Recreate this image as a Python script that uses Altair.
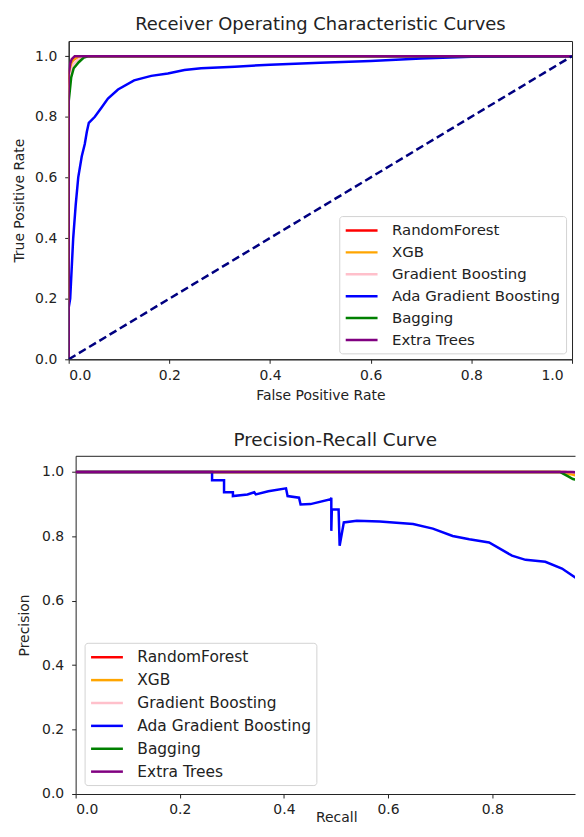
import altair as alt
import pandas as pd

FONT = "DejaVu Sans"
INK = "#222222"

models = ["RandomForest", "XGB", "Gradient Boosting", "Ada Gradient Boosting", "Bagging", "Extra Trees"]
colors = ["#ff0000", "#ffa500", "#ffc0cb", "#0000ff", "#008000", "#800080"]

# ROC curves (false positive rate, true positive rate)
roc_fpr = {
    "RandomForest": [0, 0, 0.002, 0.005, 0.01, 0.02, 0.05, 1.0],
    "XGB": [0, 0, 0.003, 0.008, 0.015, 0.03, 1.0],
    "Gradient Boosting": [0, 0, 0.004, 0.01, 0.02, 0.04, 1.0],
    "Ada Gradient Boosting": [0, 0, 0.003, 0.009, 0.014, 0.019, 0.026, 0.032, 0.036, 0.04,
                              0.052, 0.065, 0.078, 0.098, 0.13, 0.164, 0.197, 0.23, 0.263,
                              0.33, 0.4, 0.5, 0.6, 0.7, 0.8, 1.0],
    "Bagging": [0, 0, 0.005, 0.01, 0.02, 0.03, 0.04, 1.0],
    "Extra Trees": [0, 0, 0.003, 0.006, 0.012, 1.0],
}
roc_tpr = {
    "RandomForest": [0, 0.90, 0.95, 0.98, 0.99, 0.997, 1.0, 1.0],
    "XGB": [0, 0.92, 0.96, 0.985, 0.995, 1.0, 1.0],
    "Gradient Boosting": [0, 0.88, 0.94, 0.975, 0.99, 1.0, 1.0],
    "Ada Gradient Boosting": [0, 0.17, 0.2, 0.4, 0.51, 0.6, 0.67, 0.71, 0.75, 0.78,
                              0.8, 0.83, 0.86, 0.89, 0.92, 0.935, 0.943, 0.954, 0.96,
                              0.965, 0.972, 0.978, 0.984, 0.992, 0.998, 1.0],
    "Bagging": [0, 0.85, 0.93, 0.96, 0.98, 0.995, 1.0, 1.0],
    "Extra Trees": [0, 0.94, 0.975, 0.99, 1.0, 1.0],
}
chance_x = [0, 1]
chance_y = [0, 1]

# Precision-recall curves (recall, precision)
pr_recall = {
    "RandomForest": [0, 0.94, 0.96, 0.975, 0.99, 1.0],
    "XGB": [0, 0.93, 0.95, 0.975, 0.99, 1.0],
    "Gradient Boosting": [0, 0.95, 0.97, 0.985, 1.0],
    "Ada Gradient Boosting": [0, 0.262, 0.262, 0.285, 0.285, 0.302, 0.302, 0.33, 0.343, 0.346,
                              0.37, 0.404, 0.407, 0.429, 0.432, 0.451, 0.49, 0.491, 0.491,
                              0.492, 0.505, 0.507, 0.515, 0.54, 0.584, 0.648, 0.686, 0.724,
                              0.756, 0.794, 0.838, 0.864, 0.902, 0.934, 0.973, 1.0],
    "Bagging": [0, 0.93, 0.945, 0.955, 0.975, 0.99, 1.0],
    "Extra Trees": [0, 0.955, 0.975, 0.99, 1.0],
}
pr_precision = {
    "RandomForest": [1.0, 1.0, 0.997, 0.99, 0.975, 0.95],
    "XGB": [1.0, 1.0, 0.993, 0.983, 0.97, 0.94],
    "Gradient Boosting": [1.0, 1.0, 0.995, 0.985, 0.95],
    "Ada Gradient Boosting": [1.0, 1.0, 0.974, 0.974, 0.937, 0.937, 0.925, 0.93, 0.937, 0.93,
                              0.94, 0.949, 0.925, 0.92, 0.899, 0.90, 0.915, 0.92, 0.817,
                              0.883, 0.883, 0.771, 0.843, 0.848, 0.846, 0.838, 0.824, 0.801,
                              0.791, 0.781, 0.74, 0.727, 0.721, 0.70, 0.657, 0.60],
    "Bagging": [1.0, 1.0, 0.987, 0.978, 0.971, 0.96, 0.93],
    "Extra Trees": [1.0, 1.0, 0.995, 0.985, 0.96],
}

roc_ticks = [0.0, 0.2, 0.4, 0.6, 0.8, 1.0]
pr_xticks = [0.0, 0.2, 0.4, 0.6, 0.8]
y_ticks = [0.0, 0.2, 0.4, 0.6, 0.8, 1.0]


def to_frame(xs, ys):
    rows = []
    for m in models:
        for i, (a, b) in enumerate(zip(xs[m], ys[m])):
            rows.append({"model": m, "idx": i, "x": a, "y": b})
    return pd.DataFrame(rows)


roc_df = to_frame(roc_fpr, roc_tpr)
pr_df = to_frame(pr_recall, pr_precision)
chance_df = pd.DataFrame({"x": chance_x, "y": chance_y, "idx": [0, 1]})

color_scale = alt.Scale(domain=models, range=colors)


def make_legend(orient, offset, font_size, row_pad, label_off):
    return alt.Legend(title=None, orient=orient, offset=offset,
                      symbolType="M-2,0H2", symbolSize=256, symbolOffset=8,
                      symbolStrokeWidth=2.5, labelFontSize=font_size, labelFont=FONT,
                      labelColor=INK, fillColor="white", strokeColor="#d3d3d3",
                      cornerRadius=3, padding=5, rowPadding=row_pad,
                      labelOffset=label_off, labelLimit=400)


def y_axis(title, title_pad):
    return alt.Axis(values=y_ticks, format=".1f", title=title, labelPadding=8,
                    titlePadding=title_pad)


# ---------------- ROC panel ----------------
roc_x_scale = alt.Scale(domain=[0, 1], nice=False, zero=False)
y_scale = alt.Scale(domain=[0, 1.05], nice=False, zero=False)
roc_legend = make_legend("bottom-right", 6, 15, 4, 21)
roc_xaxis = alt.Axis(values=roc_ticks, format=".1f", title="False Positive Rate",
                     labelPadding=5, titlePadding=6,
                     labelOffset={"condition": {"test": "datum.value >= 1", "value": -9}, "value": 0})
roc_yaxis = y_axis("True Positive Rate", 8.5)

roc_layers = []
for m in models:
    roc_layers.append(
        alt.Chart(roc_df).transform_filter(alt.datum.model == m)
        .mark_line(strokeWidth=2.5, clip=True)
        .encode(x=alt.X("x:Q", scale=roc_x_scale, axis=roc_xaxis),
                y=alt.Y("y:Q", scale=y_scale, axis=roc_yaxis),
                color=alt.Color("model:N", scale=color_scale, legend=roc_legend),
                order=alt.Order("idx:Q"))
    )
roc_layers.append(
    alt.Chart(chance_df).mark_line(color="#000080", strokeWidth=2.5,
                                   strokeDash=[8, 4], clip=True)
    .encode(x=alt.X("x:Q", scale=roc_x_scale, axis=roc_xaxis),
            y=alt.Y("y:Q", scale=y_scale, axis=roc_yaxis),
            order=alt.Order("idx:Q"))
)
top = alt.layer(*roc_layers).properties(
    width=506, height=320,
    title=alt.TitleParams("Receiver Operating Characteristic Curves", fontSize=18,
                          fontWeight="normal", font=FONT, color=INK, offset=7),
)

# ---------------- Precision-recall panel ----------------
pr_x_scale = alt.Scale(domain=[0, 0.959], nice=False, zero=False)
pr_legend = make_legend("bottom-left", 9, 15.5, 5, 21)
pr_xaxis_bottom = alt.Axis(values=pr_xticks, format=".1f", title="Recall",
                           labelPadding=5, titleX=262, titleY=17,
                           titleBaseline="top", titleAlign="center")
pr_xaxis_top = alt.Axis(orient="top", labels=False, ticks=False, title=None,
                        domain=True)
pr_yaxis = y_axis("Precision", 10)

pr_layers = []
for k, m in enumerate(models):
    if k == 0:
        ax = pr_xaxis_bottom
    elif k == 1:
        ax = pr_xaxis_top
    else:
        ax = None
    pr_layers.append(
        alt.Chart(pr_df).transform_filter(alt.datum.model == m)
        .mark_line(strokeWidth=2.5, clip=True)
        .encode(x=alt.X("x:Q", scale=pr_x_scale, axis=ax),
                y=alt.Y("y:Q", scale=y_scale, axis=pr_yaxis),
                color=alt.Color("model:N", scale=color_scale, legend=pr_legend),
                order=alt.Order("idx:Q"))
    )
bottom = alt.layer(*pr_layers).resolve_axis(x="independent").properties(
    width=502, height=340,
    view=alt.ViewBackground(stroke="transparent"),
    title=alt.TitleParams("Precision-Recall Curve", fontSize=18.5, fontWeight="normal",
                          font=FONT, color=INK, offset=6, dx=10),
)


def spacer(w):
    return alt.Chart(pd.DataFrame({"v": [0]})).mark_point(opacity=0, size=1).properties(
        width=w, height=1, view=alt.ViewBackground(stroke="transparent"))


row1 = alt.hconcat(spacer(1), top, spacing=0).resolve_scale(
    color="independent").resolve_legend(color="independent")
row2 = alt.hconcat(spacer(7), bottom, spacing=0).resolve_scale(
    color="independent").resolve_legend(color="independent")

chart = alt.vconcat(row1, row2, spacing=28).resolve_scale(
    color="independent").resolve_legend(color="independent").properties(
    padding={"left": 0, "top": 5, "right": 0, "bottom": 0}
).configure_view(stroke=INK, strokeWidth=1).configure_axis(
    labelFont=FONT, titleFont=FONT, labelFontSize=14, titleFontSize=14,
    titleFontWeight="normal", labelColor=INK, titleColor=INK,
    tickColor=INK, domainColor=INK, grid=False, tickSize=4,
)

chart.save("out.html", embed_options={"renderer": "svg", "actions": False})
